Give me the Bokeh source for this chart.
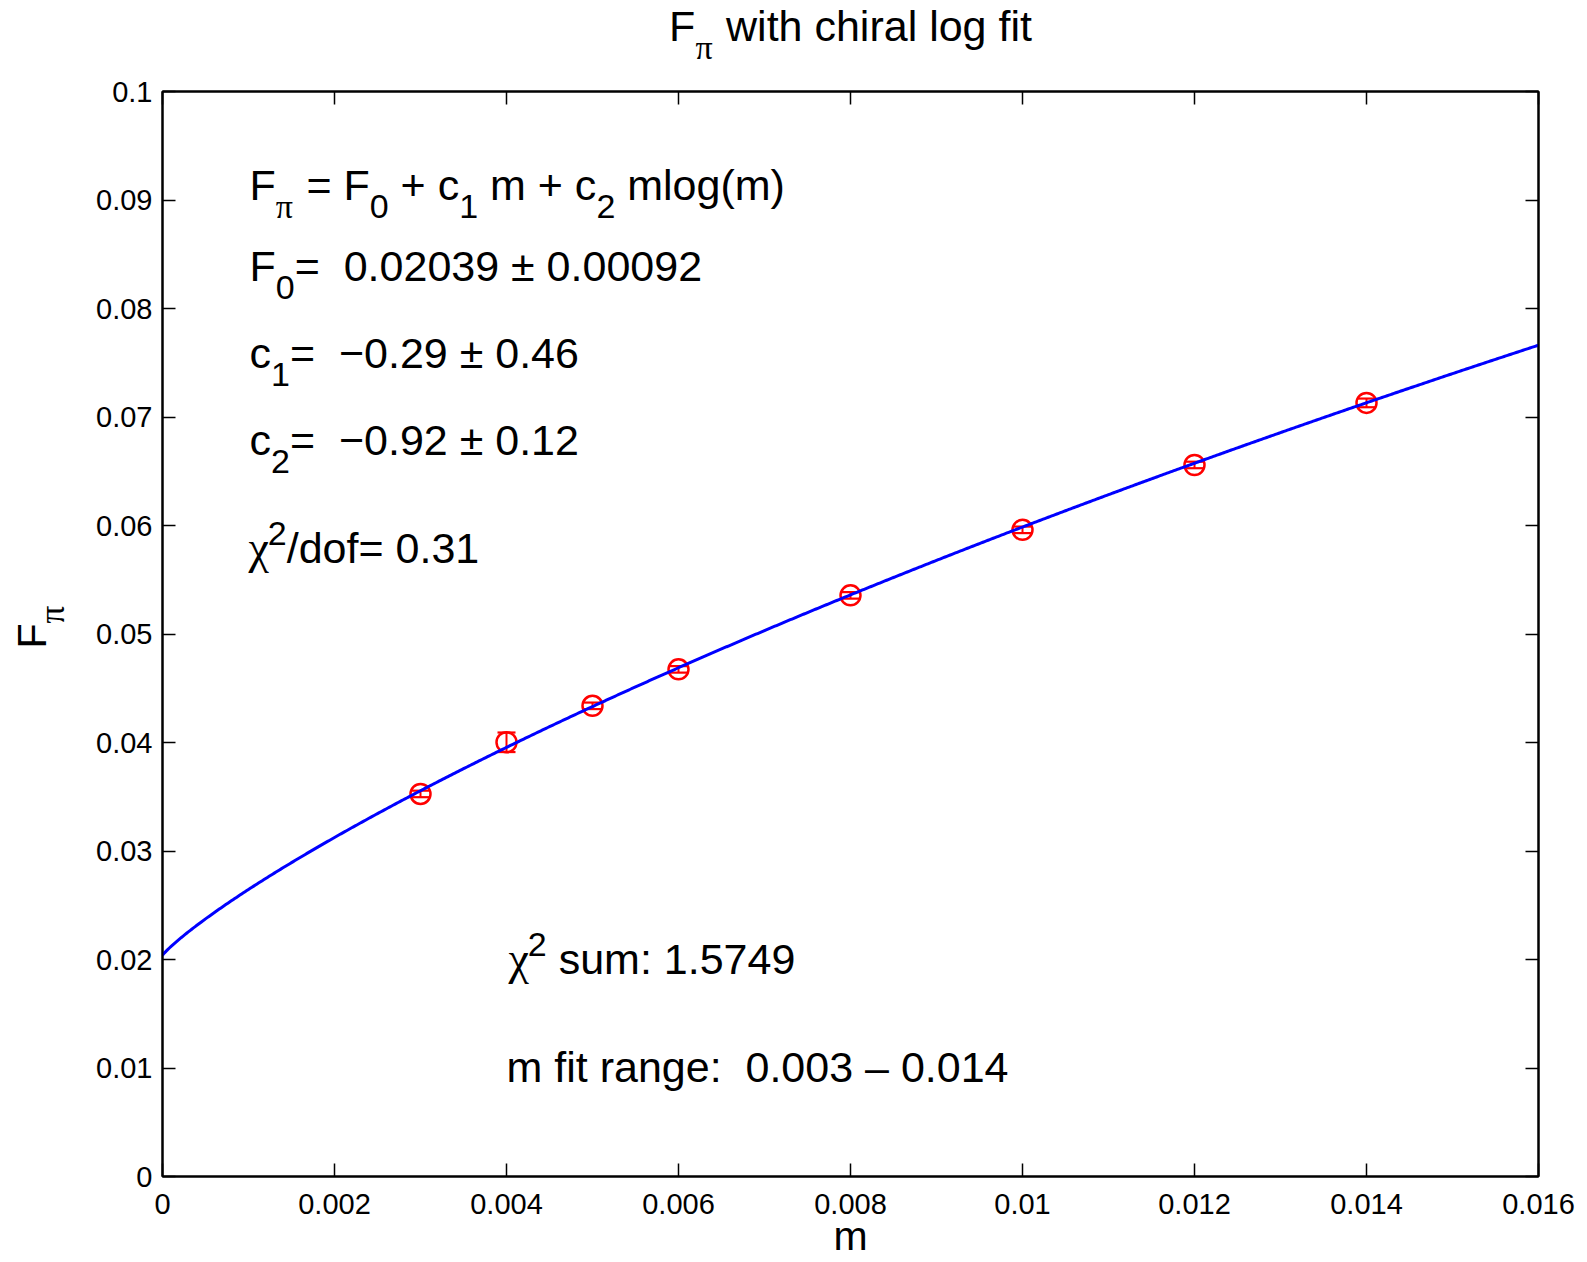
import re
import numpy as np
from bokeh.plotting import figure
from bokeh.layouts import column, row
from bokeh.models import (ColumnDataSource, Whisker, TeeHead, LinearAxis,
                          FixedTicker, Label, Range1d)
from bokeh.embed import file_html
from bokeh.resources import INLINE

# ---- measured pion decay constant vs quark mass ----
m_vals = [0.003, 0.004, 0.005, 0.006, 0.008, 0.010, 0.012, 0.014]
fpi_vals = [0.03526, 0.04002, 0.04338, 0.04674, 0.05356, 0.05960, 0.06558, 0.07130]
fpi_errs = [0.0003, 0.0009, 0.0003, 0.0003, 0.0003, 0.0003, 0.0003, 0.0004]

# ---- chiral log fit parameters: F = F0 + c1 m + c2 m log(m) ----
F0 = 0.02039
C1 = -0.29
C2 = -0.92

x_ticks = [0, 0.002, 0.004, 0.006, 0.008, 0.010, 0.012, 0.014, 0.016]
x_tick_labels = ["0", "0.002", "0.004", "0.006", "0.008", "0.01", "0.012", "0.014", "0.016"]
y_ticks = [0, 0.01, 0.02, 0.03, 0.04, 0.05, 0.06, 0.07, 0.08, 0.09, 0.1]
y_tick_labels = ["0", "0.01", "0.02", "0.03", "0.04", "0.05", "0.06", "0.07", "0.08", "0.09", "0.1"]

X_LO, X_HI = 0.0, 0.016
Y_LO, Y_HI = 0.0, 0.1

# ---- page geometry (pixels from the top-left of the page) ----
W_PAGE, H_PAGE = 1587, 1262
TITLE_H = 72            # strip holding the title
YLAB_W = 80             # strip holding the vertical axis label
FRAME_L, FRAME_R, FRAME_T, FRAME_B = 162, 1538, 91, 1176
MAIN_W = W_PAGE - YLAB_W
MAIN_H = H_PAGE - TITLE_H
FRAME_W = FRAME_R - FRAME_L
FRAME_H = FRAME_B - FRAME_T
PX_X = (X_HI - X_LO) / FRAME_W
PX_Y = (Y_HI - Y_LO) / FRAME_H


def px_x(px):
    return X_LO + (px - FRAME_L) * PX_X


def px_y(py):
    return Y_LO + (FRAME_B - py) * PX_Y


def ident(v):
    return v


SANS = "Liberation Sans"
SERIF = "Liberation Serif"
BASE_FIX = 0.40   # label anchor sits this many em above the drawn baseline
SUB_RATIO = 0.78

# Arial/Helvetica advance widths (1/1000 em)
ADV = {" ": 278, "(": 333, ")": 333, "+": 584, ".": 278, "/": 278, ":": 278,
       "=": 584, "\u00b1": 584, "\u2212": 584, "\u2013": 556, "F": 611,
       "a": 556, "c": 500, "d": 556, "e": 556, "f": 278, "g": 556, "h": 556,
       "i": 222, "l": 222, "m": 833, "n": 556, "o": 556, "r": 333, "s": 500,
       "t": 278, "u": 556, "w": 722, "\u03c0": 550, "\u03c7": 450}
for d in "0123456789":
    ADV[d] = 556


def adv(s, size):
    return sum(ADV.get(ch, 556) for ch in s) * size / 1000.0


def blank_fig(w, h, x0, x1, y0, y1, top=0, bottom=0):
    f = figure(width=w, height=h, output_backend="svg", toolbar_location=None,
               x_range=Range1d(x0, x1), y_range=Range1d(y0, y1),
               x_axis_type=None, y_axis_type=None,
               min_border=0, min_border_left=0, min_border_right=0,
               min_border_top=top, min_border_bottom=bottom,
               background_fill_color="white", border_fill_color="white")
    f.outline_line_color = None
    f.xgrid.visible = False
    f.ygrid.visible = False
    return f


# ---- main plot ----
p = figure(width=MAIN_W, height=MAIN_H, output_backend="svg", toolbar_location=None,
           x_range=Range1d(X_LO, X_HI), y_range=Range1d(Y_LO, Y_HI),
           min_border_left=FRAME_L - YLAB_W, min_border_right=W_PAGE - FRAME_R,
           min_border_top=FRAME_T - TITLE_H, min_border_bottom=H_PAGE - FRAME_B,
           background_fill_color="white", border_fill_color="white")
p.xgrid.visible = False
p.ygrid.visible = False
p.outline_line_color = "black"
p.outline_line_width = 2


def style_axis(ax, ticks, labels, show_labels, standoff):
    ax.ticker = FixedTicker(ticks=ticks)
    ax.minor_tick_line_color = None
    ax.major_tick_in = 13
    ax.major_tick_out = 0
    ax.major_tick_line_width = 1.5
    ax.major_tick_line_color = "black"
    ax.axis_line_width = 2
    ax.axis_line_color = "black"
    ax.major_label_standoff = standoff
    ax.major_label_text_font = SANS
    ax.major_label_text_font_size = "29px"
    ax.major_label_text_color = "black"
    if show_labels:
        ax.major_label_overrides = {t: s for t, s in zip(ticks, labels)}
    else:
        ax.major_label_overrides = {t: "" for t in ticks}
        ax.major_label_text_font_size = "0px"


style_axis(p.xaxis[0], x_ticks, x_tick_labels, True, 17)
style_axis(p.yaxis[0], y_ticks, y_tick_labels, True, 10)
p.xaxis[0].axis_label = "m"
p.xaxis[0].axis_label_text_font = SANS
p.xaxis[0].axis_label_text_font_size = "41px"
p.xaxis[0].axis_label_text_font_style = "normal"
p.xaxis[0].axis_label_text_color = "black"
p.xaxis[0].axis_label_standoff = -4

top_ax = LinearAxis()
right_ax = LinearAxis()
style_axis(top_ax, x_ticks, x_tick_labels, False, 0)
style_axis(right_ax, y_ticks, y_tick_labels, False, 0)
p.add_layout(top_ax, "above")
p.add_layout(right_ax, "right")

# ---- data with error bars ----
src = ColumnDataSource(dict(
    m=m_vals, f=fpi_vals,
    lo=[v - e for v, e in zip(fpi_vals, fpi_errs)],
    hi=[v + e for v, e in zip(fpi_vals, fpi_errs)],
))
p.add_layout(Whisker(source=src, base="m", lower="lo", upper="hi", dimension="height",
                     line_color="red", line_width=2,
                     lower_head=TeeHead(size=18, line_color="red", line_width=2.2),
                     upper_head=TeeHead(size=18, line_color="red", line_width=2.2)))
p.scatter("m", "f", source=src, marker="circle", size=20, fill_color=None,
          line_color="red", line_width=2.5)

# ---- fit curve from the quoted parameters ----
m_fit = np.linspace(X_LO, X_HI, 801)
mlogm = np.where(m_fit > 0, m_fit * np.log(np.where(m_fit > 0, m_fit, 1.0)), 0.0)
f_fit = F0 + C1 * m_fit + C2 * mlogm
p.line(m_fit, f_fit, line_color="#0000ff", line_width=3)


# ---- text with sub/superscripts ----
SCRIPT_SHIFT = 18
CHI_SCALE = 1.08


def rich(fig, parts, x0_px, base_px, size, to_x=px_x, to_y=px_y):
    """parts: (text, mode, serif); mode in 'n', 'sub', 'sup'."""
    sub_size = round(size * SUB_RATIO)
    cursor = 0.0
    for text, mode, serif in parts:
        fs = size if mode == "n" else sub_size
        draw_fs = round(fs * CHI_SCALE) if text == "\u03c7" else fs
        dy = {"n": 0, "sub": SCRIPT_SHIFT, "sup": -SCRIPT_SHIFT}[mode]
        pos = 0
        for chunk in re.split(r"( {2,}|^ +| +$)", text):
            if chunk == "":
                continue
            if chunk.strip() != "":
                fig.add_layout(Label(x=to_x(x0_px + cursor + pos),
                                     y=to_y(base_px + dy - BASE_FIX * draw_fs),
                                     text=chunk, text_font=SERIF if serif else SANS,
                                     text_font_size=f"{draw_fs}px", text_color="black",
                                     text_baseline="alphabetic", text_align="left"))
            pos += adv(chunk, fs)
        cursor += pos
    return cursor


def rich_width(parts, size):
    sub_size = round(size * SUB_RATIO)
    return sum(adv(t, size if m == "n" else sub_size) for t, m, s in parts)


PI = "\u03c0"
CHI = "\u03c7"
MINUS = "\u2212"

ANN = 43
rich(p, [("F", "n", False), (PI, "sub", True), (" = F", "n", False), ("0", "sub", False),
         (" + c", "n", False), ("1", "sub", False), (" m + c", "n", False),
         ("2", "sub", False), (" mlog(m)", "n", False)], 249, 202, ANN)
rich(p, [("F", "n", False), ("0", "sub", False),
         ("=  0.02039 \u00b1 0.00092", "n", False)], 249, 283, ANN)
rich(p, [("c", "n", False), ("1", "sub", False),
         (f"=  {MINUS}0.29 \u00b1 0.46", "n", False)], 249, 370, ANN)
rich(p, [("c", "n", False), ("2", "sub", False),
         (f"=  {MINUS}0.92 \u00b1 0.12", "n", False)], 249, 457, ANN)
rich(p, [(CHI, "n", True), ("2", "sup", False), ("/dof= 0.31", "n", False)], 248, 565, ANN)
rich(p, [(CHI, "n", True), ("2", "sup", False), (" sum: 1.5749", "n", False)], 508, 976, ANN)
rich(p, [("m fit range:  0.003 \u2013 0.014", "n", False)], 506, 1084, ANN)

# ---- title strip ----
title_fig = blank_fig(W_PAGE, TITLE_H, 0, W_PAGE, TITLE_H, 0)
title_parts = [("F", "n", False), (PI, "sub", True), (" with chiral log fit", "n", False)]
TS = 43
tw = rich_width(title_parts, TS)
rich(title_fig, title_parts, (FRAME_L + FRAME_R) / 2 - tw / 2, 43, TS, to_x=ident, to_y=ident)

# ---- vertical axis label strip (reads bottom-to-top) ----
# its frame spans the same rows as the main frame, in page pixels
ylab_fig = blank_fig(YLAB_W, MAIN_H, 0, YLAB_W, FRAME_B, FRAME_T,
                     top=FRAME_T - TITLE_H, bottom=H_PAGE - FRAME_B)
YL = 41
yl_base_x = 48
yl_start_y = 648
ylab_fig.add_layout(Label(x=yl_base_x - BASE_FIX * YL, y=yl_start_y, text="F", angle=np.pi / 2,
                          text_font=SANS, text_font_size=f"{YL}px", text_color="black",
                          text_baseline="alphabetic", text_align="left"))
ys = round(YL * 0.86)
ylab_fig.add_layout(Label(x=yl_base_x + SCRIPT_SHIFT - BASE_FIX * ys,
                          y=yl_start_y - adv("F", YL), text=PI, angle=np.pi / 2,
                          text_font=SERIF, text_font_size=f"{ys}px", text_color="black",
                          text_baseline="alphabetic", text_align="left"))

page = column(title_fig, row(ylab_fig, p, spacing=0), spacing=0)
open("out.html", "w").write(file_html(page, INLINE))
